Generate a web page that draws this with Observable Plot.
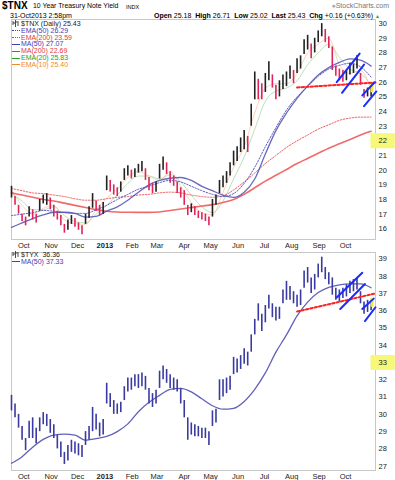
<!DOCTYPE html>
<html><head><meta charset="utf-8">
<script src="https://cdn.jsdelivr.net/npm/d3@7"></script>
<script src="https://cdn.jsdelivr.net/npm/@observablehq/plot@0.6"></script>
<style>
body{margin:0;background:#fff;font-family:"Liberation Sans",Arial,sans-serif;}
#wrap{position:relative;width:395px;height:480px;overflow:hidden;background:#fff;}
.t{position:absolute;white-space:nowrap;line-height:1;}
.lg{position:absolute;left:12px;font-size:7px;white-space:nowrap;line-height:7px;}
.ic{display:inline-block;width:8px;height:0;vertical-align:middle;margin-right:1px;}
#wrap > svg{position:absolute;left:0;}
</style></head><body><div id="wrap"></div>
<script>
// ---------- data ----------
// bars every 4 calendar days from 2012-09-17
const tnxLo = [18.1,17.6,17.0,16.5,16.2,16.8,16.6,16.4,17.2,17.7,
 17.6,17.3,16.8,16.6,16.2,15.7,15.9,16.3,16.1,15.9,
 15.6,16.3,16.7,17.4,17.2,16.9,17.0,18.6,18.5,18.3,
 18.2,18.5,19.3,19.6,19.4,19.5,19.8,19.9,19.3,18.6,
 18.4,18.5,19.4,20.0,19.7,19.1,18.9,18.4,18.1,17.6,
 16.9,17.1,16.9,16.7,16.6,16.5,16.2,16.8,17.6,18.4,
 18.8,19.1,19.6,20.3,20.6,21.2,21.4,21.2,23.0,24.8,
 24.8,24.8,25.3,26.1,25.6,24.8,25.0,25.5,25.7,26.2,
 25.9,26.6,26.9,27.9,28.2,27.6,28.0,28.7,29.1,28.7,
 28.3,26.8,26.4,26.1,26.0,26.1,26.5,26.6,26.9,25.8,
 24.9,25.0,25.0];
const tnxHi = [18.9,18.2,17.6,17.0,16.8,17.5,17.3,17.0,18.0,18.3,
 18.4,18.1,17.6,17.2,16.9,16.3,16.6,16.9,16.7,16.4,
 16.2,17.0,17.5,18.4,17.9,17.6,17.8,19.6,19.3,19.0,
 18.8,19.2,20.1,20.3,20.0,20.1,20.4,20.6,20.1,19.5,
 19.1,19.2,20.4,20.9,20.5,19.9,19.6,19.2,18.8,18.6,
 17.6,17.7,17.5,17.2,17.1,17.0,16.8,18.0,18.3,19.3,
 19.6,19.9,20.5,21.3,21.6,22.2,22.7,22.3,24.5,26.7,
 26.2,25.9,26.6,27.4,26.5,25.8,26.1,26.5,26.7,27.1,
 26.8,27.6,27.8,28.9,29.2,28.6,29.0,29.5,30.0,29.6,
 29.1,28.4,27.1,26.9,26.8,26.8,27.3,27.2,27.8,26.6,
 25.5,25.6,25.7];
const tyxLo = [30.2,29.8,29.2,28.5,27.9,28.6,28.6,28.3,29.0,29.4,
 29.3,28.9,28.6,28.0,27.5,27.1,27.3,27.8,27.7,27.6,
 27.5,28.2,28.5,29.0,29.1,28.7,28.8,30.6,30.4,30.0,
 30.0,30.1,30.8,31.3,31.4,31.6,31.5,31.6,31.4,30.6,
 30.4,30.6,31.5,32.0,31.8,31.5,31.4,31.3,30.6,29.8,
 28.5,28.8,28.7,28.7,28.6,28.6,28.2,29.3,29.5,30.8,
 31.0,31.2,31.4,32.3,32.4,32.6,32.9,32.8,33.6,34.6,
 35.4,34.8,35.3,36.1,35.6,35.4,35.5,36.4,36.6,36.6,
 36.4,36.2,36.3,37.3,37.6,37.0,37.2,37.9,38.2,37.8,
 37.5,36.9,36.6,36.5,36.7,36.8,37.0,37.1,37.2,36.4,
 35.8,35.9,36.0];
const tyxHi = [31.1,30.6,30.0,29.3,28.6,29.6,29.8,29.2,29.8,30.1,
 30.0,29.7,29.4,28.8,28.4,27.8,28.2,28.5,28.4,28.3,
 28.2,29.0,29.3,30.4,30.0,29.5,29.7,31.8,31.2,30.8,
 30.6,30.7,31.6,32.1,32.1,32.3,32.3,32.4,32.2,31.5,
 31.2,31.4,32.5,32.8,32.6,32.3,32.1,32.0,31.5,30.8,
 29.8,29.5,29.4,29.3,29.2,29.2,29.0,30.2,30.3,32.0,
 32.0,32.1,32.2,33.3,33.2,33.4,33.8,33.6,34.6,35.5,
 36.4,35.8,36.3,36.9,36.4,36.2,36.2,37.2,37.7,37.4,
 37.1,36.9,37.2,38.3,38.5,37.9,38.1,38.7,39.1,38.5,
 38.2,37.9,37.3,37.2,37.3,37.5,37.7,37.8,37.9,37.1,
 36.5,36.6,36.6];
// moving averages every 12 calendar days from 2012-09-17
const tnxEMA50 = [16.9,17.0,17.1,17.25,17.2,17.1,17.05,17.05,17.3,17.6,18.0,18.35,18.7,18.9,19.15,19.3,19.2,18.9,18.6,18.35,18.2,18.4,19.1,20.2,21.6,22.9,24.1,25.0,25.7,26.4,26.9,27.15,27.3,27.05,26.35];
const tnxEMA200 = [18.75,18.6,18.45,18.4,18.3,18.2,18.05,17.95,17.95,18.05,18.15,18.2,18.3,18.35,18.45,18.5,18.45,18.3,18.2,18.15,18.25,18.65,19.2,19.8,20.45,21.0,21.55,22.0,22.4,22.8,23.1,23.4,23.55,23.62,23.62];
const tnxMA50 = [16.1,16.4,16.7,16.95,17.13,17.13,17.05,16.8,16.85,17.2,17.5,17.95,18.5,19.0,19.3,19.45,19.5,19.3,18.9,18.6,18.3,18.15,18.5,19.4,21.1,22.7,23.9,24.9,25.75,26.5,27.0,27.35,27.6,27.5,27.1];
const tnxMA200 = [18.45,18.3,18.15,18.0,17.9,17.75,17.6,17.45,17.3,17.2,17.15,17.13,17.12,17.12,17.15,17.25,17.35,17.45,17.55,17.65,17.8,18.0,18.35,18.8,19.25,19.65,20.05,20.45,20.8,21.15,21.5,21.8,22.1,22.4,22.65];
const tnxEMA20 = [18.4,17.9,17.3,17.3,17.5,16.9,16.5,16.4,17.0,17.6,18.3,19.1,19.6,19.6,19.4,19.7,19.2,18.3,17.5,17.1,17.9,19.4,20.9,22.8,24.7,25.4,25.6,26.1,27.2,28.0,28.6,27.7,26.9,26.6,25.85];
const tnxEMA10 = [18.6,17.6,17.0,17.4,17.6,16.6,16.35,16.3,17.3,18.1,18.7,19.5,19.9,19.6,19.3,19.9,18.9,17.8,17.1,16.95,18.5,20.2,21.6,23.9,25.6,25.9,25.9,26.6,28.0,28.6,29.0,27.2,26.6,26.8,25.45];
const tyxMA50 = [27.17,27.55,28.1,28.55,28.8,28.85,28.8,28.5,28.6,28.72,29.0,29.45,30.15,30.7,31.1,31.45,31.5,31.3,30.9,30.5,30.3,30.35,30.75,31.45,32.4,33.6,34.6,35.7,36.5,37.05,37.35,37.5,37.55,37.55,37.33];
// hand-drawn annotations: [date, value] endpoints
const tnxRedLine = [["2013-08-07",25.64],["2013-11-04",25.98]];
const tnxChannels = [
  [["2013-09-21",26.0],["2013-10-17",27.95]],
  [["2013-09-27",25.28],["2013-10-22",27.2]],
  [["2013-10-20",25.1],["2013-11-03",26.0]],
  [["2013-10-22",24.37],["2013-11-05",25.37]]];
const tyxRedLine = [["2013-08-07",35.95],["2013-11-04",37.0]];
const tyxChannels = [
  [["2013-09-21",36.77],["2013-10-20",38.2]],
  [["2013-09-25",36.1],["2013-10-23",37.55]],
  [["2013-10-20",36.1],["2013-11-02",36.7]],
  [["2013-10-23",35.4],["2013-11-04",36.2]]];
const tnxLast = {date:"2013-10-31", lo:25.28, hi:25.92};
const tyxLast = {date:"2013-10-31", lo:36.2, hi:36.72};
const tnxTicks = [16,17,18,19,20,21,22,23,24,25,26,27,28,29,30];
const tyxTicks = [27,28,29,30,31,32,33,34,35,36,37,38,39];
const tnxHighlight = 22, tyxHighlight = 33;

(function(){
const P = s => new Date(s + "T00:00:00Z");
const start = P("2012-09-17"), stop = P("2013-11-01");
const barDates = d3.utcDay.range(start, stop, 4);
const maDates = d3.utcDay.range(start, stop, 12);
const xDomain = [P("2012-09-17"), P("2013-11-04")];
const monthTicks = d3.utcMonth.range(P("2012-10-01"), P("2013-11-01"));
const fmt = d => d.getUTCMonth() === 0 ? String(d.getUTCFullYear()) : d3.utcFormat("%b")(d);

function bars(lo, hi) {
  return barDates.map((d, i) => ({date: d, lo: lo[i], hi: hi[i],
    up: i === 0 || lo[i] + hi[i] >= lo[i-1] + hi[i-1]}));
}
const tnxBars = bars(tnxLo, tnxHi), tyxBars = bars(tyxLo, tyxHi);
const tnxMA = maDates.map((d, k) => ({date: d, ema50: tnxEMA50[k], ema200: tnxEMA200[k], ma50: tnxMA50[k], ma200: tnxMA200[k], ema20: tnxEMA20[k], ema10: tnxEMA10[k]}));
const tyxMA = maDates.map((d, k) => ({date: d, ma50: tyxMA50[k]}));
const seg = a => a.map(([d, v]) => ({date: P(d), v}));

const common = {
  width: 395,
  marginLeft: 11, marginRight: 20,
  style: {fontFamily: "Liberation Sans, Arial, sans-serif", fontSize: "7.5px", color: "#222", background: "transparent", overflow: "visible"},
};
function xAxis() {
  return Plot.axisX({ticks: monthTicks, tickFormat: fmt, tickSize: 0, tickPadding: 3});
}

const topPlot = Plot.plot({
  ...common, height: 250, marginTop: 19, marginBottom: 11,
  x: {type: "utc", domain: xDomain},
  y: {domain: [15.27, 30.28]},
  marks: [
    Plot.frame({stroke: "#c8c8c8"}),
    xAxis(),
    Plot.axisY({anchor: "right", ticks: tnxTicks, tickSize: 0, tickPadding: 3}),
    Plot.line(tnxMA, {x: "date", y: "ema20", stroke: "#a8d8a8", strokeWidth: 0.8, curve: "monotone-x"}),
    Plot.line(tnxMA, {x: "date", y: "ema10", stroke: "#f8c8a4", strokeWidth: 0.8, curve: "monotone-x"}),
    Plot.line(tnxMA, {x: "date", y: "ema200", stroke: "#f06060", strokeWidth: 1, strokeDasharray: "1.5,1.5", curve: "monotone-x"}),
    Plot.line(tnxMA, {x: "date", y: "ma200", stroke: "#f05a5a", strokeWidth: 1.6, strokeOpacity: 0.9, curve: "monotone-x"}),
    Plot.line(tnxMA, {x: "date", y: "ema50", stroke: "#6060c0", strokeWidth: 1, strokeDasharray: "1.5,1.5", curve: "monotone-x"}),
    Plot.line(tnxMA, {x: "date", y: "ma50", stroke: "#5050b0", strokeWidth: 1.3, strokeOpacity: 0.85, curve: "monotone-x"}),
    Plot.ruleX(tnxBars, {x: "date", y1: "lo", y2: "hi", stroke: d => d.up ? "#222" : "#e0245a", strokeWidth: 1.6}),
    Plot.ruleX([tnxLast], {x: d => P(d.date), y1: "lo", y2: "hi", stroke: "#f2ea3a", strokeWidth: 3}),
    Plot.line(seg(tnxRedLine), {x: "date", y: "v", stroke: "#ff2222", strokeWidth: 2, strokeDasharray: "2.5,2", clip: false}),
    ...tnxChannels.map(c => Plot.line(seg(c), {x: "date", y: "v", stroke: "#1a2cff", strokeWidth: 2, clip: false}))
  ]
});

const botPlot = Plot.plot({
  ...common, height: 230, marginTop: 2, marginBottom: 10,
  x: {type: "utc", domain: xDomain},
  y: {domain: [26.75, 39.37]},
  marks: [
    Plot.frame({stroke: "#c8c8c8"}),
    xAxis(),
    Plot.axisY({anchor: "right", ticks: tyxTicks, tickSize: 0, tickPadding: 3}),
    Plot.line(tyxMA, {x: "date", y: "ma50", stroke: "#5050b0", strokeWidth: 1.3, strokeOpacity: 0.9, curve: "monotone-x"}),
    Plot.ruleX(tyxBars, {x: "date", y1: "lo", y2: "hi", stroke: "#3a3aa0", strokeWidth: 1.6}),
    Plot.ruleX([tyxLast], {x: d => P(d.date), y1: "lo", y2: "hi", stroke: "#f2ea3a", strokeWidth: 3}),
    Plot.line(seg(tyxRedLine), {x: "date", y: "v", stroke: "#ff2222", strokeWidth: 2, strokeDasharray: "2.5,2", clip: false}),
    ...tyxChannels.map(c => Plot.line(seg(c), {x: "date", y: "v", stroke: "#1a2cff", strokeWidth: 2, clip: false}))
  ]
});

const wrap = document.getElementById("wrap");
topPlot.style.top = "0px"; botPlot.style.top = "250px";
wrap.appendChild(topPlot); wrap.appendChild(botPlot);

function post(svg, hl) {
  svg.querySelectorAll("text").forEach(t => {
    if (t.textContent === "2013") t.setAttribute("font-weight", "bold");
    if (t.textContent === String(hl)) {
      const b = t.getBBox();
      const r = document.createElementNS("http://www.w3.org/2000/svg", "rect");
      r.setAttribute("x", b.x - 8); r.setAttribute("y", b.y - 3);
      r.setAttribute("width", b.width + 16); r.setAttribute("height", b.height + 6);
      r.setAttribute("fill", "#f7f77a");
      const tr = t.getAttribute("transform");
      if (tr) r.setAttribute("transform", tr);
      t.parentNode.insertBefore(r, t);
    }
  });
}
post(topPlot, tnxHighlight); post(botPlot, tyxHighlight);

function add(html, css, cls = "t") {
  const d = document.createElement("div");
  d.className = cls; d.innerHTML = html; d.style.cssText += css; wrap.appendChild(d);
}
const icon = `<svg width="7" height="7" style="vertical-align:-1px;margin-right:2px" viewBox="0 0 7 7"><path d="M1 1v4M1 3h2M3.5 0v7M3.5 2h2M6 1v5" stroke="#333" stroke-width="0.9" fill="none"/></svg>`;
const ln = (c, dash) => `<span class="ic" style="border-top:${dash ? "1.5px dotted" : "1.6px solid"} ${c}"></span>`;

add(`$TNX`, "left:2px;top:1px;font-size:10px;font-weight:bold;");
add(`10 Year Treasury Note Yield`, "left:33px;top:3px;font-size:6.9px;");
add(`INDX`, "left:126px;top:4.5px;font-size:5.5px;");
add(`<span style="color:#aaa">&#9679;</span>StockCharts.com`, "right:6px;top:2px;font-size:7px;color:#777;");
add(`31-Oct2013 2:58pm`, "left:10px;top:12px;font-size:7px;");
add(`<b>Open</b> 25.18 &nbsp;<b>High</b> 26.71 &nbsp;<b>Low</b> 25.02 &nbsp;<b>Last</b> 25.43 &nbsp;<b>Chg</b> +0.16 (+0.63%) <span style="color:#2a2;font-size:5px">&#9650;</span>`, "right:15px;top:12px;font-size:7px;");

const lgTop = [
  [`${icon}$TNX (Daily) 25.43`, "#222", null],
  [`EMA(50) 26.29`, "#4040b0", "d"],
  [`EMA(200) 23.59`, "#e03a3a", "d"],
  [`MA(50) 27.07`, "#4040b0", "s"],
  [`MA(200) 22.69`, "#e03a3a", "s"],
  [`EMA(20) 25.83`, "#2a9a2a", "s"],
  [`EMA(10) 25.40`, "#f08a30", "s"]];
lgTop.forEach(([txt, c, k], i) => add((k ? ln(c, k === "d") : "") + txt, `top:${20 + i * 6.8}px;color:${c};`, "lg"));
add(`${icon}$TYX &nbsp;36.36`, "top:251px;color:#222;", "lg");
add(ln("#4040b0", false) + `MA(50) 37.33`, "top:257.5px;color:#4040b0;", "lg");
})();
</script>
</body></html>
